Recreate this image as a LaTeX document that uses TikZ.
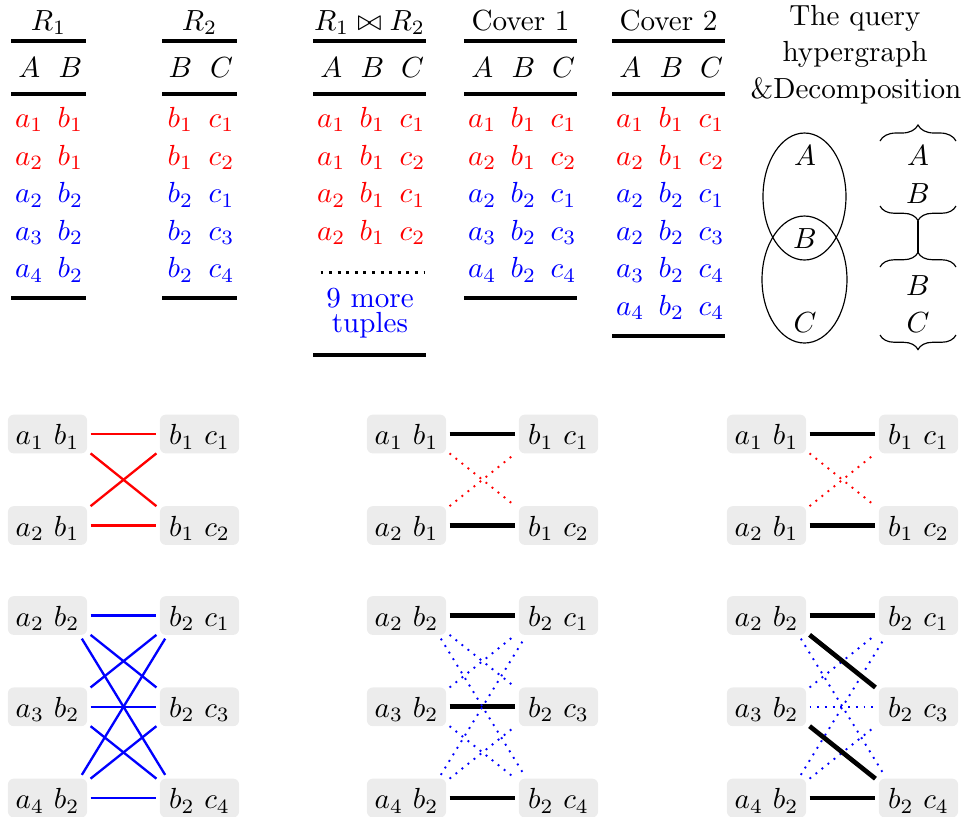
\documentclass[tikz,border=0pt]{standalone}
\usetikzlibrary{decorations.pathreplacing}
\begin{document}
\begin{tikzpicture}[x=0.34364pt,y=-0.34364pt,
  hrule/.style={line width=1.1pt},
  cell/.style={anchor=base,inner sep=0pt,outer sep=0pt},
  tup/.style={fill=gray!15,rounded corners=2pt,minimum width=27.2pt,inner xsep=0pt,inner ysep=3pt,text height=7.3pt,text depth=0pt,outer xsep=1.2pt,outer ysep=0pt},
  redl/.style={red,thick},
  bluel/.style={blue,thick},
  blk/.style={black,line width=1.6pt},
  rdot/.style={red,line width=0.65pt,dash pattern=on 0.65pt off 2pt},
  bdot/.style={blue,line width=0.65pt,dash pattern=on 0.65pt off 2pt},
  brc/.style={decorate,decoration={brace,amplitude=5pt}},
]
\useasboundingbox (0,0) rectangle (965,816);

% ---------- table R1 ----------
\node[cell] (tR1) at (48.5,30) {$R_1$};
\draw[hrule] (11,41) -- (86,41);
\node[cell] (hR1a) at (29.3,77) {$A$};
\node[cell] (hR1b) at (70.5,77) {$B$};
\draw[hrule] (11,94) -- (86,94);
\foreach \c/\p/\q [count=\k from 0] in {red/a_1/b_1,red/a_2/b_1,blue/a_2/b_2,blue/a_3/b_2,blue/a_4/b_2}{
  \node[cell,text=\c] (ra\k) at (29.3,127.5+37.6*\k) {$\p$};
  \node[cell,text=\c] (rb\k) at (70.5,127.5+37.6*\k) {$\q$};
}
\draw[hrule] (11,298) -- (86,298);

% ---------- table R2 ----------
\node[cell] (tR2) at (199.5,30) {$R_2$};
\draw[hrule] (162,41) -- (237,41);
\node[cell] (hR2a) at (180.3,77) {$B$};
\node[cell] (hR2b) at (221.5,77) {$C$};
\draw[hrule] (162,94) -- (237,94);
\foreach \c/\p/\q [count=\k from 0] in {red/b_1/c_1,red/b_1/c_2,blue/b_2/c_1,blue/b_2/c_3,blue/b_2/c_4}{
  \node[cell,text=\c] (sa\k) at (180.3,127.5+37.6*\k) {$\p$};
  \node[cell,text=\c] (sb\k) at (221.5,127.5+37.6*\k) {$\q$};
}
\draw[hrule] (162,298) -- (237,298);

% ---------- table join ----------
\node[cell] (tJ) at (369.5,30) {$R_1\bowtie R_2$};
\draw[hrule] (313,41) -- (426,41);
\node[cell] (hJa) at (331.3,77) {$A$};
\node[cell] (hJb) at (372.5,77) {$B$};
\node[cell] (hJc) at (412.5,77) {$C$};
\draw[hrule] (313,94) -- (426,94);
\foreach \c/\p/\q/\r [count=\k from 0] in {red/a_1/b_1/c_1,red/a_1/b_1/c_2,red/a_2/b_1/c_1,red/a_2/b_1/c_2}{
  \node[cell,text=\c] (ja\k) at (331.3,127.5+37.6*\k) {$\p$};
  \node[cell,text=\c] (jb\k) at (372.5,127.5+37.6*\k) {$\q$};
  \node[cell,text=\c] (jc\k) at (412.5,127.5+37.6*\k) {$\r$};
}
\draw[line width=1pt,dash pattern=on 1pt off 1.95pt] (320.5,272.7) -- (425,272.7);
\node[cell,text=blue] (more1) at (370,307) {9 more};
\node[cell,text=blue] (more2) at (370,332) {tuples};
\draw[hrule] (313,355) -- (426,355);

% ---------- table cover 1 ----------
\node[cell] (tC1) at (520.5,30) {Cover 1};
\draw[hrule] (464,41) -- (577,41);
\node[cell] (hC1a) at (482.3,77) {$A$};
\node[cell] (hC1b) at (523.5,77) {$B$};
\node[cell] (hC1c) at (563.5,77) {$C$};
\draw[hrule] (464,94) -- (577,94);
\foreach \c/\p/\q/\r [count=\k from 0] in {red/a_1/b_1/c_1,red/a_2/b_1/c_2,blue/a_2/b_2/c_1,blue/a_3/b_2/c_3,blue/a_4/b_2/c_4}{
  \node[cell,text=\c] (ca\k) at (482.3,127.5+37.6*\k) {$\p$};
  \node[cell,text=\c] (cb\k) at (523.5,127.5+37.6*\k) {$\q$};
  \node[cell,text=\c] (cc\k) at (563.5,127.5+37.6*\k) {$\r$};
}
\draw[hrule] (464,298) -- (577,298);

% ---------- table cover 2 ----------
\node[cell] (tC2) at (668.5,30) {Cover 2};
\draw[hrule] (612,41) -- (725,41);
\node[cell] (hC2a) at (630.3,77) {$A$};
\node[cell] (hC2b) at (671.5,77) {$B$};
\node[cell] (hC2c) at (711.5,77) {$C$};
\draw[hrule] (612,94) -- (725,94);
\foreach \c/\p/\q/\r [count=\k from 0] in {red/a_1/b_1/c_1,red/a_2/b_1/c_2,blue/a_2/b_2/c_1,blue/a_2/b_2/c_3,blue/a_3/b_2/c_4,blue/a_4/b_2/c_4}{
  \node[cell,text=\c] (da\k) at (630.3,127.5+37.6*\k) {$\p$};
  \node[cell,text=\c] (db\k) at (671.5,127.5+37.6*\k) {$\q$};
  \node[cell,text=\c] (dc\k) at (711.5,127.5+37.6*\k) {$\r$};
}
\draw[hrule] (612,336) -- (725,336);

% ---------- hypergraph ----------
\node[cell] (hg1) at (855,25) {The query};
\node[cell] (hg2) at (855,61) {hypergraph};
\node[cell] (hg3) at (856,98) {\&Decomposition};
\draw (804.5,196.5) ellipse [x radius=14.26pt, y radius=21.82pt];
\draw (804.5,279.5) ellipse [x radius=14.6pt, y radius=21.82pt];
\node[cell] (eA) at (805,165) {$A$};
\node[cell] (eB) at (805,248) {$B$};
\node[cell] (eC) at (805,332) {$C$};
\draw[decorate,decoration={brace,amplitude=5.5pt}] (880,141) -- (956,141);
\draw[brc] (956,206) -- (880,206);
\draw (918,220.5) -- (918,252.5);
\draw[brc] (880,267) -- (956,267);
\draw[brc] (956,335) -- (880,335);
\node[cell] (bA) at (918,165) {$A$};
\node[cell] (bB) at (918,203) {$B$};
\node[cell] (bB2) at (918,295) {$B$};
\node[cell] (bC) at (918,332) {$C$};

% ---------- graphs: nodes ----------
\foreach \g/\dx in {L/0,M/359,R/719}{
  \node[tup] (\g a1) at (47.5+\dx,434) {$a_1\ b_1$};
  \node[tup] (\g b1) at (199.5+\dx,434) {$b_1\ c_1$};
  \node[tup] (\g a2) at (47.5+\dx,525.5) {$a_2\ b_1$};
  \node[tup] (\g b2) at (199.5+\dx,525.5) {$b_1\ c_2$};
  \node[tup] (\g a3) at (47.5+\dx,615.5) {$a_2\ b_2$};
  \node[tup] (\g b3) at (199.5+\dx,615.5) {$b_2\ c_1$};
  \node[tup] (\g a4) at (47.5+\dx,706.8) {$a_3\ b_2$};
  \node[tup] (\g b4) at (199.5+\dx,706.8) {$b_2\ c_3$};
  \node[tup] (\g a5) at (47.5+\dx,798) {$a_4\ b_2$};
  \node[tup] (\g b5) at (199.5+\dx,798) {$b_2\ c_4$};
}

% ---------- left graph edges ----------
\draw[redl] (La1.east) -- (Lb1.west);
\draw[redl] (La2.east) -- (Lb2.west);
\draw[redl] (La1.south east) -- (Lb2.north west);
\draw[redl] (La2.north east) -- (Lb1.south west);
\draw[bluel] (La3.east) -- (Lb3.west);
\draw[bluel] (La4.east) -- (Lb4.west);
\draw[bluel] (La5.east) -- (Lb5.west);
\draw[bluel] (La3.south east) -- (Lb4.north west);
\draw[bluel] (La4.north east) -- (Lb3.south west);
\draw[bluel] (La4.south east) -- (Lb5.north west);
\draw[bluel] (La5.north east) -- (Lb4.south west);
\draw[bluel] ([xshift=-3pt,yshift=-1.3pt]La3.south east) -- ([xshift=3pt,yshift=1.3pt]Lb5.north west);
\draw[bluel] ([xshift=-3pt,yshift=1.3pt]La5.north east) -- ([xshift=3pt,yshift=-1.3pt]Lb3.south west);

% ---------- middle graph edges ----------
\draw[rdot] (Ma1.south east) -- (Mb2.north west);
\draw[rdot] (Ma2.north east) -- (Mb1.south west);
\draw[blk] (Ma1.east) -- (Mb1.west);
\draw[blk] (Ma2.east) -- (Mb2.west);
\draw[blk] (Ma3.east) -- (Mb3.west);
\draw[blk] (Ma4.east) -- (Mb4.west);
\draw[blk] (Ma5.east) -- (Mb5.west);
\draw[bdot] (Ma3.south east) -- (Mb4.north west);
\draw[bdot] (Ma4.north east) -- (Mb3.south west);
\draw[bdot] (Ma4.south east) -- (Mb5.north west);
\draw[bdot] (Ma5.north east) -- (Mb4.south west);
\draw[bdot] ([xshift=-3pt,yshift=-1.3pt]Ma3.south east) -- ([xshift=3pt,yshift=1.3pt]Mb5.north west);
\draw[bdot] ([xshift=-3pt,yshift=1.3pt]Ma5.north east) -- ([xshift=3pt,yshift=-1.3pt]Mb3.south west);

% ---------- right graph edges ----------
\draw[rdot] (Ra1.south east) -- (Rb2.north west);
\draw[rdot] (Ra2.north east) -- (Rb1.south west);
\draw[blk] (Ra1.east) -- (Rb1.west);
\draw[blk] (Ra2.east) -- (Rb2.west);
\draw[bdot] (Ra4.east) -- (Rb4.west);
\draw[bdot] (Ra4.north east) -- (Rb3.south west);
\draw[bdot] (Ra5.north east) -- (Rb4.south west);
\draw[bdot] ([xshift=-3pt,yshift=-1.3pt]Ra3.south east) -- ([xshift=3pt,yshift=1.3pt]Rb5.north west);
\draw[bdot] ([xshift=-3pt,yshift=1.3pt]Ra5.north east) -- ([xshift=3pt,yshift=-1.3pt]Rb3.south west);
\draw[blk] (Ra3.east) -- (Rb3.west);
\draw[blk] (Ra3.south east) -- (Rb4.north west);
\draw[blk] (Ra4.south east) -- (Rb5.north west);
\draw[blk] (Ra5.east) -- (Rb5.west);
\end{tikzpicture}
\end{document}
